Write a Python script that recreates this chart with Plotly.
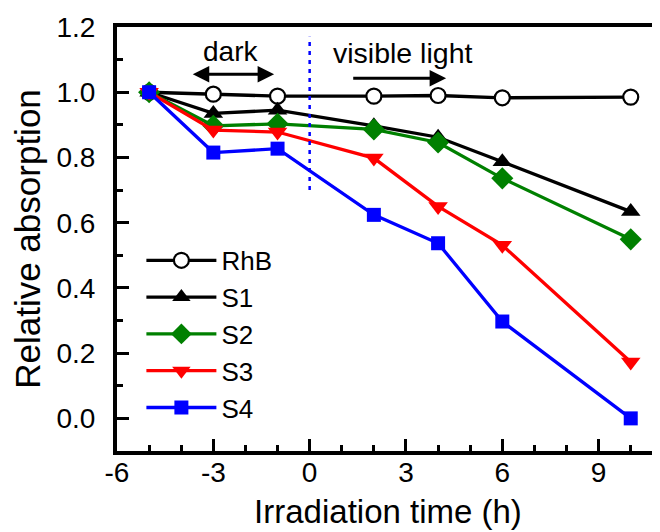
import plotly.graph_objects as go

time_h = [-5, -3, -1, 2, 4, 6, 10]
rhb = [1.0, 0.994, 0.988, 0.988, 0.990, 0.983, 0.985]
s1 = [1.0, 0.935, 0.945, 0.897, 0.862, 0.787, 0.634]
s2 = [1.0, 0.897, 0.903, 0.886, 0.846, 0.736, 0.549]
s3 = [1.0, 0.884, 0.878, 0.798, 0.650, 0.531, 0.173]
s4 = [1.0, 0.815, 0.827, 0.624, 0.537, 0.297, 0.0]

series = [
    ("RhB", rhb, "black", "circle-open"),
    ("S1", s1, "black", "triangle-up"),
    ("S2", s2, "green", "diamond"),
    ("S3", s3, "red", "triangle-down"),
    ("S4", s4, "blue", "square"),
]

FONT = "Arial, Liberation Sans, sans-serif"

fig = go.Figure()
for name, vals, color, sym in series:
    if sym == "circle-open":
        marker = dict(symbol="circle", size=15, color="white", line=dict(color=color, width=2.2))
    else:
        size = {"triangle-up": 17, "triangle-down": 17, "diamond": 17, "square": 14}[sym]
        marker = dict(symbol=sym, size=size, color=color, line=dict(width=0))
    fig.add_trace(go.Scatter(
        x=time_h, y=vals, name=name, mode="lines+markers",
        line=dict(color=color, width=3.3), marker=marker,
    ))

# dotted divider at t = 0
fig.add_shape(type="line", x0=0, x1=0, y0=0.70, y1=1.17, xref="x", yref="y",
              line=dict(color="blue", width=2.5, dash="4px,5px"))

# "dark" double-headed arrow
fig.add_annotation(x=-3.64, y=1.055, ax=-1.06, ay=1.055, xref="x", yref="y", axref="x", ayref="y",
                   text="", showarrow=True, arrowhead=2, arrowside="end+start", arrowsize=1.1,
                   arrowwidth=3, arrowcolor="black")
fig.add_annotation(x=-2.46, y=1.125, xref="x", yref="y", text="dark", showarrow=False,
                   font=dict(family=FONT, size=28, color="black"))
# "visible light" arrow
fig.add_annotation(x=4.25, y=1.043, ax=1.31, ay=1.043, xref="x", yref="y", axref="x", ayref="y",
                   text="", showarrow=True, arrowhead=2, arrowsize=1.1,
                   arrowwidth=3, arrowcolor="black")
fig.add_annotation(x=2.9, y=1.12, xref="x", yref="y", text="visible light", showarrow=False,
                   font=dict(family=FONT, size=28.5, color="black"))

xt = [-6, -3, 0, 3, 6, 9]
yt = [0.0, 0.2, 0.4, 0.6, 0.8, 1.0, 1.2]

fig.update_layout(
    width=660, height=532,
    margin=dict(l=109, r=9, t=19, b=89),
    plot_bgcolor="white", paper_bgcolor="white",
    font=dict(family=FONT, size=28, color="black"),
    showlegend=True,
    legend=dict(x=0.045, y=0.505, xanchor="left", yanchor="top", bgcolor="rgba(0,0,0,0)",
                font=dict(family=FONT, size=26, color="black"), itemwidth=70),
    xaxis=dict(
        range=[-6, 10.88], tickvals=xt, ticktext=[str(v) for v in xt],
        ticks="inside", ticklen=12, tickwidth=3, tickcolor="black",
        minor=dict(dtick=1, tick0=0, ticks="inside", ticklen=6, tickwidth=3, tickcolor="black"),
        showline=True, linewidth=4, linecolor="black", mirror=True,
        showgrid=False, zeroline=False, automargin=False,
        ticklabelstandoff=-7,
        tickfont=dict(family=FONT, size=28),
        title=dict(text="Irradiation time (h)", font=dict(family=FONT, size=33), standoff=14),
    ),
    yaxis=dict(
        range=[-0.1, 1.2], tickvals=yt, ticktext=[f"{v:.1f}" for v in yt],
        ticks="inside", ticklen=12, tickwidth=3, tickcolor="black",
        minor=dict(dtick=0.1, tick0=0, ticks="inside", ticklen=6, tickwidth=3, tickcolor="black"),
        showline=True, linewidth=4, linecolor="black", mirror=False,
        showgrid=False, zeroline=False, automargin=False,
        ticklabelstandoff=12,
        tickfont=dict(family=FONT, size=28),
        title=dict(text="Relative absorption", font=dict(family=FONT, size=35), standoff=8),
    ),
)

fig.write_html("out.html")
